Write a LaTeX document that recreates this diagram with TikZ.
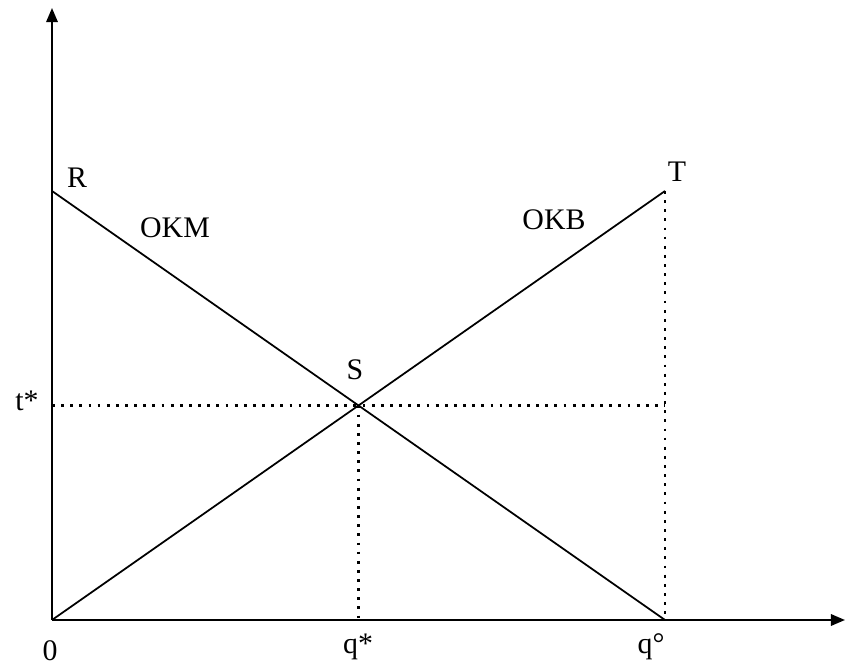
\documentclass[tikz,border=0pt]{standalone}
\usepackage{fontspec}
\setmainfont{Liberation Serif}
\usetikzlibrary{arrows.meta, positioning}
\tikzset{
    axis/.style={-{Triangle[length=8pt, width=6.5pt]}, line width=1.1pt},
    curve/.style={line width=1pt},
    guide/.style={line width=1.4pt, dash pattern=on 1.6pt off 3.6pt},
    lbl/.style={font=\fontsize{17}{20}\selectfont, inner sep=0pt}
}
\begin{document}
\begin{tikzpicture}[x=0.02cm, y=0.02cm]
        \useasboundingbox (0,0) rectangle (845,666);
        % axes
        \coordinate (O) at (52,46);
        \coordinate (ytop) at (52,658);
        \coordinate (xend) at (845,46);
        \coordinate (R) at (52,475);
        \coordinate (T) at (665,475);
        \coordinate (qo) at (665,46);
        \coordinate (S) at (358.5,260.5);
        \coordinate (tstar) at (52,260.5);
        \coordinate (qstar) at (358.5,46);
        \coordinate (tend) at (665,260.5);

        \draw[guide] (tstar) -- (tend);
        \draw[guide] (S) -- (qstar);
        \draw[guide] (T) -- (qo);

        \draw[axis] (O) -- (ytop);
        \draw[axis] (O) -- (xend);

        \draw[curve] (R) -- (qo);
        \draw[curve] (O) -- (T);

        % labels
        \node[lbl] (labR) at (77,488) {R};
        \node[lbl] (labOKM) at (175,438) {OKM};
        \node[lbl] (labOKB) at (554,446) {OKB};
        \node[lbl] (labT) at (677,494) {T};
        \node[lbl] (labS) at (355,296) {S};
        \node[lbl] (labt) at (27,265) {t*};
        \node[lbl] (lab0) at (50,15) {0};
        \node[lbl] (labq) at (358,19) {q*};
        \node[lbl] (labqo) at (651,19) {q°};
\end{tikzpicture}
\end{document}
